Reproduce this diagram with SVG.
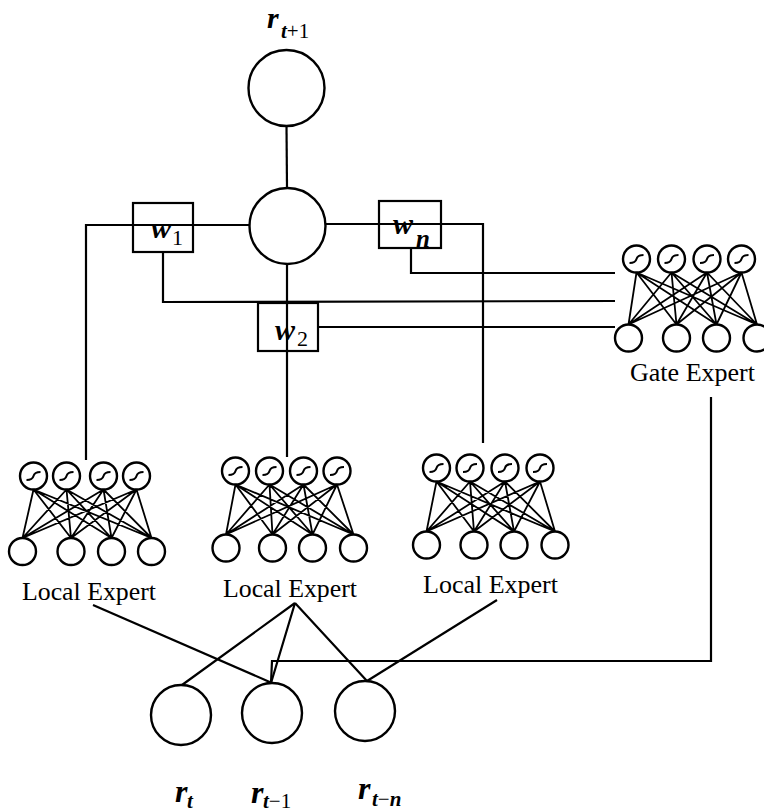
<svg xmlns="http://www.w3.org/2000/svg" xmlns:xlink="http://www.w3.org/1999/xlink" width="764" height="812" viewBox="0 0 764 812">
<style>
.c{fill:none;stroke:#000;stroke-width:2.4}
.l{fill:none;stroke:#000;stroke-width:2.2}
.n{fill:none;stroke:#000;stroke-width:1.8}
.b{fill:none;stroke:#000;stroke-width:2.2}
.sg{fill:none;stroke:#000;stroke-width:2}
.lab{font-family:"Liberation Serif","Times New Roman",serif;font-size:25px;fill:#000}
.r{font-family:"Liberation Serif","Times New Roman",serif;font-style:italic;font-weight:bold;font-size:32px;fill:#000}
.rt{font-size:30px}
.rs{font-family:"Liberation Serif","Times New Roman",serif;font-style:italic;font-weight:bold;font-size:21px;fill:#000}
.up{font-style:normal;font-weight:normal}
.w{font-family:"Liberation Serif","Times New Roman",serif;font-style:italic;font-weight:bold;font-size:30px;fill:#000}
.ws{font-family:"Liberation Serif","Times New Roman",serif;font-size:22px;fill:#000}
.wsi{font-family:"Liberation Serif","Times New Roman",serif;font-style:italic;font-weight:bold;font-size:25px;fill:#000}
</style>
<defs>
<g id="sn"><circle class="c" r="13.5"/><path class="sg" d="M-7 4 Q-1 4 0 0 Q1 -4 7 -4"/></g>
<circle id="in" class="c" r="13.5"/>
</defs>
<rect width="764" height="812" fill="#fff"/>

<g id="connectors">
<path class="l" d="M286.5 126 L287 188"/>
<path class="l" d="M250 225 L86 225 L86 460"/>
<path class="l" d="M325 224 L483 224 L483 443"/>
<path class="l" d="M287 264 L287 457"/>
<path class="l" d="M163 252 L163 302 L615 301"/>
<path class="l" d="M411 248 L411 273 L615 273"/>
<path class="l" d="M318 327 L615 327"/>
<path class="l" d="M711 397 L711 661 L272 661 L271 683"/>
<path class="l" d="M93 605 L272 683"/>
<path class="l" d="M295 603 L182 685 M295 603 L271 683 M295 603 L367 681"/>
<path class="l" d="M497 600 L367 681"/>
</g>

<g id="out">
<circle class="c" cx="286.5" cy="88" r="38"/>
<text class="r rt" x="267" y="28">r</text><text class="rs" x="281" y="38">t<tspan class="up">+1</tspan></text>
</g>

<g id="sum">
<circle class="c" cx="287.5" cy="226" r="38"/>
</g>

<g id="w1">
<rect class="b" x="133" y="203" width="60" height="49"/>
<path class="l" d="M133 225 L193 225"/>
<text class="w" x="151" y="238">w</text><text class="ws" x="172" y="245">1</text>
</g>

<g id="wn">
<rect class="b" x="379" y="201" width="62" height="47"/>
<path class="l" d="M379 224 L441 224"/>
<text class="w" x="393" y="234">w</text><text class="wsi" x="416" y="247">n</text>
</g>

<g id="w2">
<rect class="b" x="258" y="303" width="60" height="48"/>
<text class="w" x="275" y="340">w</text><text class="ws" x="297" y="346">2</text>
</g>

<g id="gate">
<path class="n" d="M636.5 272.5L628.5 324.5M636.5 272.5L676.5 324.5M636.5 272.5L716.5 324.5M636.5 272.5L757 324.5M671.5 272.5L628.5 324.5M671.5 272.5L676.5 324.5M671.5 272.5L716.5 324.5M671.5 272.5L757 324.5M707 272.5L628.5 324.5M707 272.5L676.5 324.5M707 272.5L716.5 324.5M707 272.5L757 324.5M741.5 272.5L628.5 324.5M741.5 272.5L676.5 324.5M741.5 272.5L716.5 324.5M741.5 272.5L757 324.5"/>
<use href="#sn" xlink:href="#sn" x="636.5" y="259"/>
<use href="#sn" xlink:href="#sn" x="671.5" y="259"/>
<use href="#sn" xlink:href="#sn" x="707" y="259"/>
<use href="#sn" xlink:href="#sn" x="741.5" y="259"/>
<use href="#in" xlink:href="#in" x="628.5" y="338"/>
<use href="#in" xlink:href="#in" x="676.5" y="338"/>
<use href="#in" xlink:href="#in" x="716.5" y="338"/>
<use href="#in" xlink:href="#in" x="757" y="338"/>
<text class="lab" x="630" y="381" textLength="125" lengthAdjust="spacingAndGlyphs">Gate Expert</text>
</g>

<g id="local1">
<path class="n" d="M33.5 489.5L22.5 538M33.5 489.5L71 538M33.5 489.5L111.5 538M33.5 489.5L151.5 538M66.5 489.5L22.5 538M66.5 489.5L71 538M66.5 489.5L111.5 538M66.5 489.5L151.5 538M103.5 489.5L22.5 538M103.5 489.5L71 538M103.5 489.5L111.5 538M103.5 489.5L151.5 538M136.5 489.5L22.5 538M136.5 489.5L71 538M136.5 489.5L111.5 538M136.5 489.5L151.5 538"/>
<use href="#sn" xlink:href="#sn" x="33.5" y="476"/>
<use href="#sn" xlink:href="#sn" x="66.5" y="476"/>
<use href="#sn" xlink:href="#sn" x="103.5" y="476"/>
<use href="#sn" xlink:href="#sn" x="136.5" y="476"/>
<use href="#in" xlink:href="#in" x="22.5" y="551.5"/>
<use href="#in" xlink:href="#in" x="71" y="551.5"/>
<use href="#in" xlink:href="#in" x="111.5" y="551.5"/>
<use href="#in" xlink:href="#in" x="151.5" y="551.5"/>
<text class="lab" x="22" y="600" textLength="134" lengthAdjust="spacingAndGlyphs">Local Expert</text>
</g>

<g id="local2">
<path class="n" d="M235.5 484.5L226 534.5M235.5 484.5L272.5 534.5M235.5 484.5L312.5 534.5M235.5 484.5L353.5 534.5M269.5 484.5L226 534.5M269.5 484.5L272.5 534.5M269.5 484.5L312.5 534.5M269.5 484.5L353.5 534.5M303.5 484.5L226 534.5M303.5 484.5L272.5 534.5M303.5 484.5L312.5 534.5M303.5 484.5L353.5 534.5M337 484.5L226 534.5M337 484.5L272.5 534.5M337 484.5L312.5 534.5M337 484.5L353.5 534.5"/>
<use href="#sn" xlink:href="#sn" x="235.5" y="471"/>
<use href="#sn" xlink:href="#sn" x="269.5" y="471"/>
<use href="#sn" xlink:href="#sn" x="303.5" y="471"/>
<use href="#sn" xlink:href="#sn" x="337" y="471"/>
<use href="#in" xlink:href="#in" x="226" y="548"/>
<use href="#in" xlink:href="#in" x="272.5" y="548"/>
<use href="#in" xlink:href="#in" x="312.5" y="548"/>
<use href="#in" xlink:href="#in" x="353.5" y="548"/>
<text class="lab" x="223" y="597" textLength="134" lengthAdjust="spacingAndGlyphs">Local Expert</text>
</g>

<g id="local3">
<path class="n" d="M436.5 481.5L426.5 531.5M436.5 481.5L474 531.5M436.5 481.5L514 531.5M436.5 481.5L555 531.5M470 481.5L426.5 531.5M470 481.5L474 531.5M470 481.5L514 531.5M470 481.5L555 531.5M505 481.5L426.5 531.5M505 481.5L474 531.5M505 481.5L514 531.5M505 481.5L555 531.5M540 481.5L426.5 531.5M540 481.5L474 531.5M540 481.5L514 531.5M540 481.5L555 531.5"/>
<use href="#sn" xlink:href="#sn" x="436.5" y="468"/>
<use href="#sn" xlink:href="#sn" x="470" y="468"/>
<use href="#sn" xlink:href="#sn" x="505" y="468"/>
<use href="#sn" xlink:href="#sn" x="540" y="468"/>
<use href="#in" xlink:href="#in" x="426.5" y="545"/>
<use href="#in" xlink:href="#in" x="474" y="545"/>
<use href="#in" xlink:href="#in" x="514" y="545"/>
<use href="#in" xlink:href="#in" x="555" y="545"/>
<text class="lab" x="423" y="593" textLength="135" lengthAdjust="spacingAndGlyphs">Local Expert</text>
</g>

<g id="rt">
<circle class="c" cx="181" cy="715" r="30"/>
<text class="r" x="175" y="802">r</text><text class="rs" x="187" y="808">t</text>
</g>
<g id="rt1">
<circle class="c" cx="272" cy="713" r="30"/>
<text class="r" x="251" y="803">r</text><text class="rs" x="263" y="808">t<tspan class="up">−1</tspan></text>
</g>
<g id="rtn">
<circle class="c" cx="365" cy="711" r="30"/>
<text class="r" x="358" y="799">r</text><text class="rs" x="372" y="806">t<tspan class="up">−</tspan>n</text>
</g>
</svg>
